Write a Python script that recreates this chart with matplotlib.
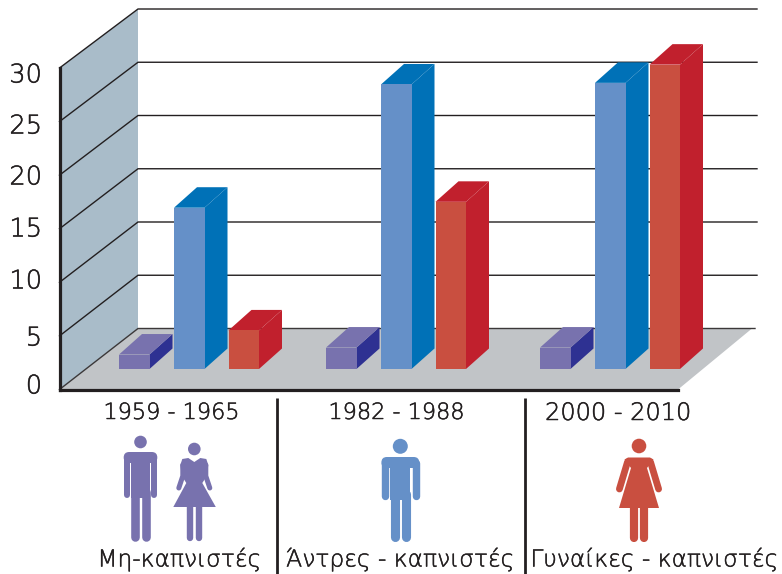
import matplotlib
matplotlib.use("Agg")
import matplotlib.pyplot as plt
import matplotlib.patheffects as pe
from matplotlib.patches import Polygon, Circle, FancyBboxPatch

# ---- data ----
periods = ["1959 - 1965", "1982 - 1988", "2000 - 2010"]
non_smokers = [1.35, 2.0, 2.0]
male_smokers = [15.05, 26.55, 26.7]
female_smokers = [3.6, 15.6, 28.4]
y_ticks = [0, 5, 10, 15, 20, 25, 30]
group_labels = ["Μη-καπνιστές", "Άντρες - καπνιστές", "Γυναίκες - καπνιστές"]

# ---- layout (pixels of the 782x574 canvas) ----
W, H = 782, 574
X0, X1 = 59.5, 678
Y0, Y30 = 389.5, 68
PX = (Y0 - Y30) / 30
DX, DY = 23, 20.5 / PX
BAR_W = 30.5
BASE = (Y0 - 369) / PX
group_x = [119, 326, 540]
offs = [0, 55, 109.5]
FONT = ["DejaVu Sans"]
INK = "#231f20"
PURPLE, BLUE, RED = "#7872ae", "#6590c8", "#c94f40"
STROKE = [pe.withStroke(linewidth=0.35, foreground=INK)]

fig = plt.figure(figsize=(W / 100, H / 100), dpi=100, facecolor="white")
ax = fig.add_axes([X0 / W, 1 - Y0 / H, (X1 - X0) / W, (Y0 - Y30) / H])
ax.set_xlim(X0, X1)
ax.set_ylim(0, 30)
ax.patch.set_alpha(0)
ax.set_xticks([]); ax.set_yticks([])
for s in ["top", "right"]:
    ax.spines[s].set_visible(False)
for s in ["left", "bottom"]:
    ax.spines[s].set_linewidth(2.3)
    ax.spines[s].set_color("#231f20")
    ax.spines[s].set_zorder(20)

ov = fig.add_axes([0, 0, 1, 1])
ov.set_xlim(0, W); ov.set_ylim(H, 0)
ov.axis("off"); ov.patch.set_alpha(0)
ov.set_zorder(5)


def poly(pts, c, z=2, **kw):
    ax.add_patch(Polygon(pts, closed=True, fc=c, ec="none", zorder=z, clip_on=False, **kw))


# wall and floor, with gridlines through the ticks
back_x = 138
BK = 61 / PX          # depth rise of the floor at the wall
scale_back = 319 / 321
poly([(X0, 0), (back_x, BK), (back_x, BK + 30 * scale_back), (X0, 30)], "#a9bcc9", 1)
poly([(X0, 0), (back_x, BK), (752, BK), (X1, 0)], "#c1c4c7", 1)
for v in y_ticks:
    yb = BK + v * scale_back
    ax.plot([X0, back_x, 755 if v == 0 else 757], [v, yb, yb], color="#231f20" if v else "#3b3839",
            lw=1.0, zorder=1.5, clip_on=False, solid_joinstyle="miter")

# bars
series = [
    (non_smokers, 0, PURPLE, "#2e3192", "#7872ae"),
    (male_smokers, 1, BLUE, "#0071b7", "#0071b7"),
    (female_smokers, 2, RED, "#c1202d", "#c1202d"),
]
for vals, k, front, side, top in series:
    for gx, v in zip(group_x, vals):
        x = gx + offs[k]
        y0, y1 = BASE, BASE + v
        poly([(x + BAR_W, y0), (x + BAR_W + DX, y0 + DY), (x + BAR_W + DX, y1 + DY), (x + BAR_W, y1)], side, 3)
        poly([(x, y1), (x + BAR_W, y1), (x + BAR_W + DX, y1 + DY), (x + DX, y1 + DY)], top, 3)
        poly([(x, y0), (x + BAR_W, y0), (x + BAR_W, y1), (x, y1)], front, 4)

# tick labels
tick_py = [386, 338, 281, 229, 177, 126, 75]
for v, py in zip(y_ticks, tick_py):
    ov.text(42, py, str(v), ha="right", va="center", fontsize=18.5, color=INK, family=FONT,
            fontweight="light", path_effects=STROKE)

for cx, t, fs in zip([171.5, 396.5, 618], periods, [16.1, 16.1, 17.3]):
    ov.text(cx, 413, t, ha="center", va="center", fontsize=fs, color=INK, family=FONT,
            fontweight="light", path_effects=STROKE)
for cx, t in zip([179.5, 400.5, 654.5], group_labels):
    ov.text(cx, 559.5, t, ha="center", va="center", fontsize=16.8, color=INK, family=FONT,
            fontweight="light", path_effects=STROKE)

# dividers
for x in [277, 525]:
    ov.plot([x, x], [398, 574], color="#231f20", lw=2.0, solid_capstyle="butt")


# pictograms
def lw(px):
    return px * 0.72


def limb(x, y, c, w):
    ov.plot(x, y, color=c, lw=lw(w), solid_capstyle="round", solid_joinstyle="round", zorder=6)


def man(cx, hy, r, sh_top, hw, arm_w, arm_end, torso, leg_w, c, foot=541.5):
    ov.add_patch(Circle((cx, hy), r, fc=c, ec="none", zorder=6))
    ov.add_patch(FancyBboxPatch((cx - hw, sh_top), 2 * hw, 11, boxstyle="round,pad=0,rounding_size=5.5",
                                fc=c, ec="none", zorder=6))
    ov.add_patch(Polygon([(cx - torso, sh_top + 2), (cx + torso, sh_top + 2), (cx + torso, arm_end), (cx - torso, arm_end)],
                         fc=c, ec="none", zorder=6))
    for s in (-1, 1):
        ax_x = cx + s * (hw - arm_w / 2)
        limb([ax_x, ax_x], [sh_top + 6, arm_end - arm_w / 2], c, arm_w)
        lx = cx + s * (torso - leg_w / 2)
        limb([lx, lx], [arm_end - 6, foot - leg_w / 2], c, leg_w)


man(140.5, 442, 6.3, 452, 16.8, 6, 498, 9.5, 8.6, PURPLE)
man(400.3, 446.3, 7.5, 457, 18.9, 7.4, 500, 10, 9.1, BLUE)


def woman1(cx, c):
    ov.add_patch(Circle((cx, 449), 6.3, fc=c, ec="none", zorder=6))
    ov.add_patch(Polygon([(cx - 14, 465), (cx - 12, 459), (cx - 6, 458), (cx, 462), (cx + 6, 458), (cx + 12, 459), (cx + 14, 465),
                          (cx + 12.5, 476), (cx + 8, 483), (cx + 21.5, 507), (cx - 21, 507), (cx - 8, 483), (cx - 12.5, 476)],
                         fc=c, ec="none", zorder=6))
    for s in (-1, 1):
        limb([cx + s * 11.5, cx + s * 11.5, cx + s * 15.5], [465, 476, 488], c, 5)
        limb([cx + s * 4.6, cx + s * 4.6], [505, 538], c, 6.4)


def woman2(cx, c):
    ov.add_patch(Circle((cx, 446), 7.3, fc=c, ec="none", zorder=6))
    ov.add_patch(Polygon([(cx - 11, 457.5), (cx + 11, 457.5), (cx + 14.5, 459.5), (cx + 8, 468), (cx + 20, 508),
                          (cx - 20, 508), (cx - 8, 468), (cx - 14.5, 459.5)],
                         fc=c, ec="none", zorder=6))
    for s in (-1, 1):
        limb([cx + s * 11.5, cx + s * 13, cx + s * 19.6], [462, 467, 489], c, 6.8)
        limb([cx + s * 4.8, cx + s * 4.8], [505, 537.5], c, 8.2)


woman1(194.3, PURPLE)
woman2(639, RED)

fig.savefig("out.png", dpi=100, facecolor="white")
